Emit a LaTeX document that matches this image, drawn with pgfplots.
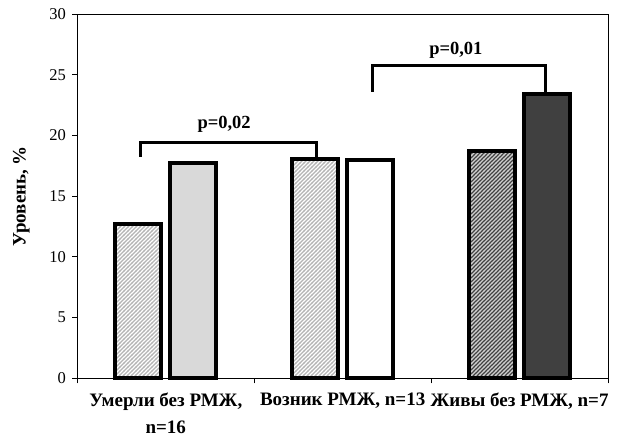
\documentclass[border=0pt]{standalone}
\usepackage{fontspec}
\setmainfont{Liberation Serif}
\usepackage{pgfplots}
\pgfplotsset{compat=1.18}
\usetikzlibrary{patterns}
\definecolor{hatchlight}{HTML}{B4B4B4}
\definecolor{darkbar}{HTML}{404040}
\definecolor{lightbar}{HTML}{D9D9D9}
\definecolor{hatchdark}{HTML}{D0D0D0}
\pgfdeclarepatternformonly{hatchNE}{\pgfqpoint{-1bp}{-1bp}}{\pgfqpoint{5bp}{5bp}}{\pgfqpoint{4bp}{4bp}}{%
  \pgfsetlinewidth{1.4bp}%
  \pgfpathmoveto{\pgfqpoint{-0.2bp}{-0.2bp}}\pgfpathlineto{\pgfqpoint{4.2bp}{4.2bp}}%
  \pgfusepath{stroke}}
\pgfdeclarepatternformonly{hatchNEthin}{\pgfqpoint{-1bp}{-1bp}}{\pgfqpoint{5bp}{5bp}}{\pgfqpoint{4bp}{4bp}}{%
  \pgfsetlinewidth{1.2bp}%
  \pgfpathmoveto{\pgfqpoint{-0.2bp}{-0.2bp}}\pgfpathlineto{\pgfqpoint{4.2bp}{4.2bp}}%
  \pgfusepath{stroke}}
\begin{document}
\begin{tikzpicture}
\begin{axis}[
  scale only axis, width=530.7bp, height=364.3bp,
  xmin=-0.5, xmax=2.5, ymin=0, ymax=30,
  axis line style={line width=0.9bp},
  ytick={0,5,...,30},
  yticklabel={\pgfmathprintnumber{\tick}},
  xtick={0,1,2},
  xticklabels={{Умерли без РМЖ,\\n=16},{Возник РМЖ, n=13},{Живы без РМЖ, n=7}},
  xticklabel style={align=center, font=\fontsize{19bp}{27bp}\selectfont\bfseries, yshift=-6bp},
  major x tick style={draw=none},
  minor xtick={-0.5,0.5,1.5,2.5},
  minor x tick style={line width=0.9bp, black},
  minor tick length=5bp,
  major tick length=5bp,
  y tick style={line width=0.9bp, black},
  tick align=outside,
  xtick pos=bottom, ytick pos=left,
  /pgf/number format/assume math mode=true,
  yticklabel style={font=\fontsize{16.5bp}{18bp}\selectfont, xshift=-3bp},
  ylabel={Уровень, \%},
  ylabel style={at={(rel axis cs:0,0.5)}, anchor=center, yshift=56bp, font=\fontsize{19bp}{22bp}\selectfont\bfseries},
  clip=false,
]
\addplot[ybar, bar width=0.26, bar shift=-0.1555, draw=black, line width=4bp,
  pattern=hatchNE, pattern color=hatchlight, preaction={fill=white}]
  coordinates {(0,12.73)};
\addplot[ybar, bar width=0.26, bar shift=0.1555, draw=black, line width=4bp, fill=lightbar]
  coordinates {(0,17.76)};
\addplot[ybar, bar width=0.26, bar shift=-0.1555, draw=black, line width=4bp,
  pattern=hatchNE, pattern color=hatchlight, preaction={fill=white}]
  coordinates {(1,18.09)};
\addplot[ybar, bar width=0.26, bar shift=0.1555, draw=black, line width=4bp, fill=white]
  coordinates {(1,17.96)};
\addplot[ybar, bar width=0.26, bar shift=-0.1555, draw=black, line width=4bp,
  pattern=hatchNEthin, pattern color=hatchdark, preaction={fill=darkbar}]
  coordinates {(2,18.72)};
\addplot[ybar, bar width=0.26, bar shift=0.1555, draw=black, line width=4bp, fill=darkbar]
  coordinates {(2,23.42)};
\draw[line width=3bp] (axis cs:-0.14,18.25) |- (axis cs:0.853,19.41) -- (axis cs:0.853,18.25);
\draw[line width=3bp] (axis cs:1.168,23.61) |- (axis cs:2.148,25.72) -- (axis cs:2.148,23.58);
\node[font=\fontsize{18.5bp}{20bp}\selectfont\bfseries, anchor=base] at (axis cs:0.33,20.6) {p=0,02};
\node[font=\fontsize{18.5bp}{20bp}\selectfont\bfseries, anchor=base] at (axis cs:1.64,26.7) {p=0,01};
\coordinate (bl) at (rel axis cs:0,0);
\coordinate (tr) at (rel axis cs:1,1);
\end{axis}
\pgfresetboundingbox
\path[use as bounding box] ([shift={(-77.3bp,-64.7bp)}]bl) rectangle ([shift={(9bp,14bp)}]tr);
\end{tikzpicture}
\end{document}
